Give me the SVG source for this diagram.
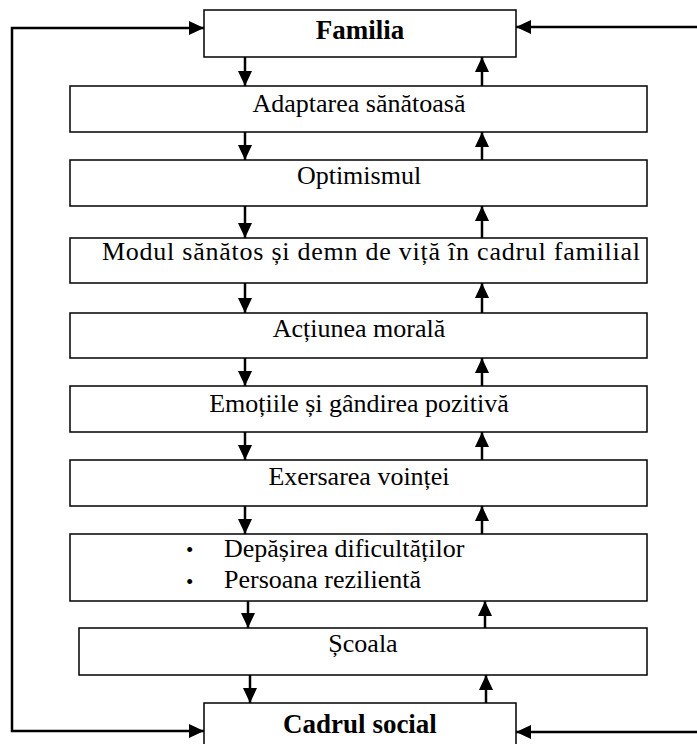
<svg xmlns="http://www.w3.org/2000/svg" width="697" height="744" viewBox="0 0 697 744">
<style>
.box{fill:#fff;stroke:#000;stroke-width:1.5}
.t{font-family:"Liberation Serif","Times New Roman",serif;font-size:26px;fill:#000;text-anchor:middle}
.b{font-weight:bold;font-size:27px}
.l{text-anchor:start}
.bul{font-family:"Liberation Serif",serif;font-size:21px;fill:#000}
.c{fill:none;stroke:#000;stroke-width:2.5;marker-end:url(#ah)}
</style>
<defs>
<marker id="ah" viewBox="0 0 15 14" refX="15" refY="7" markerWidth="15" markerHeight="14" markerUnits="userSpaceOnUse" orient="auto-start-reverse">
<path d="M0,0 L15,7 L0,14 Z" fill="#000"/>
</marker>
</defs>
<rect width="697" height="744" fill="#fff"/>
<g id="connectors">
<polyline class="c" points="204,731 12,731 12,28 204,28" style="marker-start:url(#ah)"/>
<line class="c" x1="697" y1="27" x2="516" y2="27"/>
<line class="c" x1="697" y1="732" x2="516" y2="732"/>
<line class="c" x1="245" y1="57" x2="245" y2="86"/>
<line class="c" x1="482" y1="86" x2="482" y2="57"/>
<line class="c" x1="245" y1="132" x2="245" y2="160"/>
<line class="c" x1="482" y1="160" x2="482" y2="132"/>
<line class="c" x1="245" y1="206" x2="245" y2="238"/>
<line class="c" x1="482" y1="238" x2="482" y2="206"/>
<line class="c" x1="245" y1="283" x2="245" y2="313"/>
<line class="c" x1="482" y1="313" x2="482" y2="283"/>
<line class="c" x1="245" y1="358" x2="245" y2="386"/>
<line class="c" x1="482" y1="386" x2="482" y2="358"/>
<line class="c" x1="245" y1="432" x2="245" y2="460"/>
<line class="c" x1="482" y1="460" x2="482" y2="432"/>
<line class="c" x1="245" y1="506" x2="245" y2="534"/>
<line class="c" x1="482" y1="534" x2="482" y2="506"/>
<line class="c" x1="248" y1="601" x2="248" y2="628"/>
<line class="c" x1="485" y1="628" x2="485" y2="601"/>
<line class="c" x1="250" y1="675" x2="250" y2="703"/>
<line class="c" x1="486" y1="703" x2="486" y2="675"/>
</g>
<g id="familia"><rect class="box" x="204" y="10" width="312" height="47"/><text class="t b" x="360" y="39">Familia</text></g>
<g id="adaptarea"><rect class="box" x="70" y="86" width="577" height="46"/><text class="t" x="359" y="112">Adaptarea sănătoasă</text></g>
<g id="optimismul"><rect class="box" x="70" y="160" width="577" height="46"/><text class="t" x="359" y="184">Optimismul</text></g>
<g id="modul"><rect class="box" x="70" y="238" width="577" height="45"/><text class="t l" x="102" y="260" textLength="538" lengthAdjust="spacing">Modul sănătos și demn de viță în cadrul familial</text></g>
<g id="actiunea"><rect class="box" x="70" y="313" width="577" height="45"/><text class="t" x="359" y="337">Acțiunea morală</text></g>
<g id="emotiile"><rect class="box" x="70" y="386" width="577" height="46"/><text class="t" x="359" y="412">Emoțiile și gândirea pozitivă</text></g>
<g id="exersarea"><rect class="box" x="70" y="460" width="577" height="46"/><text class="t" x="359" y="485">Exersarea voinței</text></g>
<g id="depasirea"><rect class="box" x="70" y="534" width="577" height="67"/>
<text class="bul" x="186" y="557">•</text><text class="t l" x="224" y="557">Depășirea dificultăților</text>
<text class="bul" x="186" y="589">•</text><text class="t l" x="224" y="588">Persoana rezilientă</text></g>
<g id="scoala"><rect class="box" x="79" y="628" width="568" height="47"/><text class="t" x="363" y="652">Școala</text></g>
<g id="cadrul"><rect class="box" x="204" y="703" width="312" height="50"/><text class="t b" x="360" y="733">Cadrul social</text></g>
</svg>
